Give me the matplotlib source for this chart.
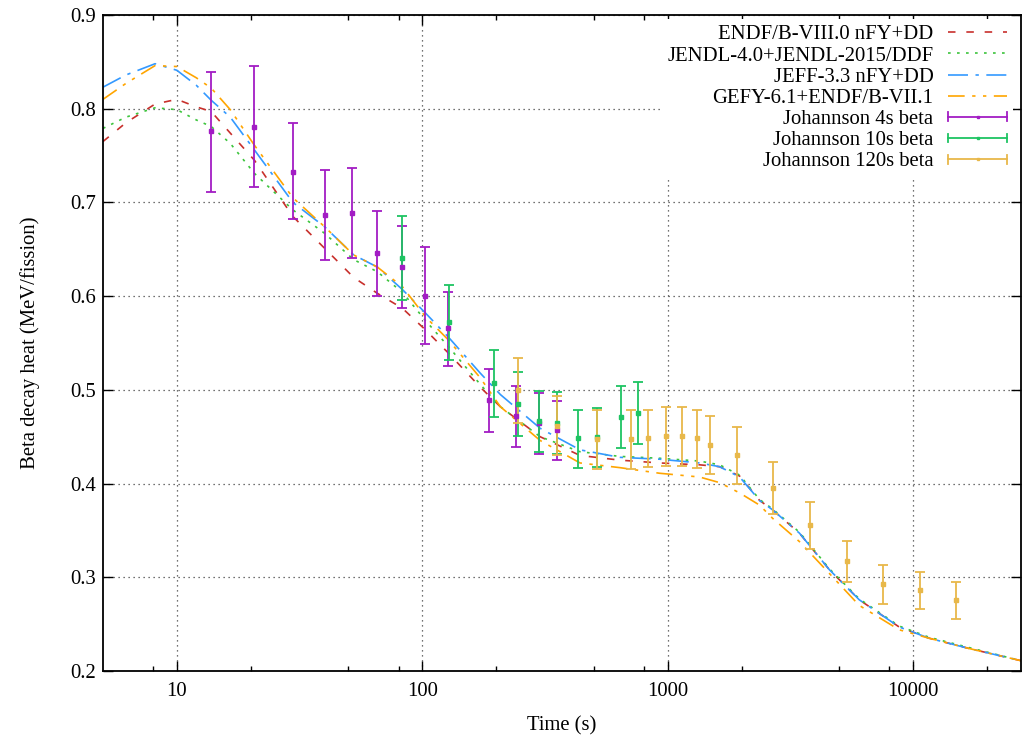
import numpy as np
import matplotlib
matplotlib.use("Agg")
import matplotlib.pyplot as plt
from matplotlib.lines import Line2D
from matplotlib.legend_handler import HandlerBase
from matplotlib.ticker import FixedLocator, NullFormatter, FixedFormatter

plt.rcParams['font.family'] = ['Liberation Serif', 'DejaVu Serif']

# ---------------- data ----------------
time_model = [5.0, 6.2, 8.15, 10, 12, 13.8, 16.5, 20.7, 29.7, 40, 52.5, 65.6, 83, 103, 128, 172,
              208, 302, 439, 638, 927, 1349, 1627, 1963, 2367, 2673, 3443, 4559,
              6029, 8764, 11610, 16900, 27500]
endf = [0.765, 0.785, 0.805, 0.810, 0.802, 0.797, 0.774, 0.745, 0.685, 0.651, 0.620, 0.603,
        0.587, 0.564, 0.539, 0.503, 0.482, 0.450, 0.430, 0.425, 0.422, 0.420, 0.418, 0.408,
        0.382, 0.372, 0.347, 0.308, 0.276, 0.247, 0.235, 0.224, 0.211]
jendl = [0.779, 0.791, 0.801, 0.799, 0.788, 0.781, 0.763, 0.731, 0.692, 0.667, 0.639, 0.626,
         0.604, 0.574, 0.546, 0.506, 0.482, 0.450, 0.434, 0.429, 0.427, 0.424, 0.420, 0.409,
         0.383, 0.373, 0.348, 0.309, 0.277, 0.248, 0.236, 0.225, 0.211]
jeff = [0.823, 0.836, 0.848, 0.841, 0.825, 0.809, 0.791, 0.756, 0.700, 0.674, 0.644, 0.631,
        0.607, 0.582, 0.556, 0.518, 0.495, 0.459, 0.436, 0.428, 0.426, 0.422, 0.418, 0.407,
        0.382, 0.372, 0.347, 0.308, 0.276, 0.247, 0.235, 0.224, 0.211]
gefy = [0.810, 0.827, 0.846, 0.845, 0.833, 0.822, 0.799, 0.761, 0.705, 0.674, 0.644, 0.631,
        0.610, 0.578, 0.553, 0.513, 0.482, 0.446, 0.422, 0.417, 0.411, 0.407, 0.401, 0.390,
        0.377, 0.363, 0.338, 0.304, 0.270, 0.244, 0.235, 0.224, 0.211]

t4 = [13.8, 20.7, 29.7, 40, 51.9, 65.6, 83, 103, 127.6, 187, 241, 299, 354]
v4 = [0.776, 0.780, 0.733, 0.687, 0.689, 0.646, 0.631, 0.600, 0.566, 0.489, 0.472, 0.465, 0.457]
lo4 = [0.711, 0.716, 0.682, 0.639, 0.641, 0.600, 0.587, 0.549, 0.525, 0.455, 0.439, 0.432, 0.425]
hi4 = [0.839, 0.846, 0.785, 0.735, 0.737, 0.691, 0.675, 0.652, 0.604, 0.522, 0.504, 0.497, 0.488]

t10 = [83, 128, 196, 245, 299, 354, 430, 514, 644, 755]
v10 = [0.641, 0.572, 0.507, 0.485, 0.467, 0.465, 0.449, 0.450, 0.471, 0.475]
lo10 = [0.596, 0.532, 0.471, 0.451, 0.434, 0.432, 0.417, 0.418, 0.438, 0.442]
hi10 = [0.685, 0.612, 0.542, 0.519, 0.499, 0.498, 0.479, 0.481, 0.504, 0.508]

t120 = [245, 354, 514, 708, 830, 982, 1140, 1313, 1482, 1907, 2696, 3814, 5395, 7558, 10670, 14960]
v120 = [0.500, 0.461, 0.448, 0.448, 0.449, 0.451, 0.451, 0.449, 0.441, 0.430, 0.395, 0.356,
        0.317, 0.293, 0.286, 0.276]
lo120 = [0.465, 0.430, 0.416, 0.416, 0.418, 0.419, 0.419, 0.417, 0.410, 0.400, 0.367, 0.330,
         0.295, 0.272, 0.266, 0.256]
hi120 = [0.534, 0.493, 0.478, 0.478, 0.479, 0.482, 0.482, 0.479, 0.472, 0.460, 0.423, 0.380,
         0.339, 0.313, 0.306, 0.295]

labels_model = ["ENDF/B-VIII.0 nFY+DD", "JENDL-4.0+JENDL-2015/DDF",
                "JEFF-3.3 nFY+DD", "GEFY-6.1+ENDF/B-VII.1"]
labels_exp = ["Johannson 4s beta", "Johannson 10s beta", "Johannson 120s beta"]
x_major = [10, 100, 1000, 10000]
x_major_labels = ["10", "100", "1000", "10000"]
x_minor = [8, 20, 50, 80, 200, 500, 800, 2000, 5000, 8000, 20000]
y_ticks = [0.2, 0.3, 0.4, 0.5, 0.6, 0.7, 0.8, 0.9]

# ---------------- style ----------------
c_red = '#c8302c'
c_green = '#3cc43c'
c_blue = '#3399ff'
c_orange = '#ffa500'
c_purple = '#a21cc4'
c_green2 = '#1ec462'
c_gold = '#e8b84a'
FS = 14.9

fig = plt.figure(figsize=(10.22, 7.37), dpi=100)
ax = fig.add_axes([103 / 1022, 66 / 737, 918 / 1022, 656 / 737])
ax.set_xscale('log')

lw = 1.2
ax.plot(time_model, endf, color=c_red, lw=lw, dashes=(4.5, 6.5), label=labels_model[0])
ax.plot(time_model, jendl, color=c_green, lw=lw, dashes=(1.6, 3.8), label=labels_model[1])
ax.plot(time_model, jeff, color=c_blue, lw=lw, dashes=(12, 4.5, 2, 4.5), label=labels_model[2])
ax.plot(time_model, gefy, color=c_orange, lw=lw, dashes=(10, 4.5, 2, 4.5, 2, 4.5), label=labels_model[3])


def draw_err(t, v, lo, hi, color):
    v = np.asarray(v); lo = np.asarray(lo); hi = np.asarray(hi)
    ax.errorbar(t, v, yerr=[v - lo, hi - v], fmt='s', ms=2.4, color=color,
                ecolor=color, elinewidth=1.3, capsize=3.8, capthick=1.3, zorder=3)


draw_err(t4, v4, lo4, hi4, c_purple)
draw_err(t10, v10, lo10, hi10, c_green2)
draw_err(t120, v120, lo120, hi120, c_gold)


class ErrProxy:
    def __init__(self, color):
        self.color = color


class HErrHandler(HandlerBase):
    def create_artists(self, legend, orig, xdescent, ydescent, width, height, fontsize, trans):
        x0, x1 = -xdescent, -xdescent + width
        y = (height - ydescent) / 2
        c = orig.color
        arts = [Line2D([x0, x1], [y, y], color=c, lw=1.3, transform=trans),
                Line2D([x0, x0], [y - 3.2, y + 3.2], color=c, lw=1.3, transform=trans),
                Line2D([x1, x1], [y - 3.2, y + 3.2], color=c, lw=1.3, transform=trans),
                Line2D([(x0 + x1) / 2], [y], color=c, marker='s', ms=1.6, ls='none', transform=trans)]
        return arts


handles, labs = ax.get_legend_handles_labels()
proxies = [ErrProxy(c_purple), ErrProxy(c_green2), ErrProxy(c_gold)]
handles = handles + proxies
labs = labs + labels_exp

fs_px = FS * 100 / 72
bp = 0.3
ax_w, ax_h = 918, 656
anchor_x = (1007 + bp * fs_px - 103) / ax_w
anchor_y = (671 - (25 - bp * fs_px)) / ax_h
leg = ax.legend(handles, labs, handler_map={ErrProxy: HErrHandler()},
                loc='upper right', bbox_to_anchor=(anchor_x, anchor_y),
                markerfirst=False, fontsize=FS, frameon=True, fancybox=False,
                edgecolor='none', facecolor='white', framealpha=1.0,
                borderpad=bp, borderaxespad=0, handlelength=2.85, handletextpad=0.7,
                labelspacing=0.08)

ax.set_xlim(5, 27500)
ax.set_ylim(0.2, 0.9)
ax.xaxis.set_major_locator(FixedLocator(x_major))
ax.xaxis.set_major_formatter(FixedFormatter(x_major_labels))
ax.xaxis.set_minor_locator(FixedLocator(x_minor))
ax.xaxis.set_minor_formatter(NullFormatter())
ax.set_yticks(y_ticks)
ax.set_yticklabels([f"{v:.1f}" for v in y_ticks])
ax.tick_params(which='major', direction='in', length=7, width=1.0, top=True, right=True,
               labelsize=FS, pad=8)
ax.tick_params(axis='y', which='major', pad=5)
ax.tick_params(which='minor', direction='in', length=3.5, width=1.0, top=True, right=True)
ax.grid(True, which='major', linestyle=(0, (1, 3)), color='#444444', linewidth=0.9)
ax.set_axisbelow(True)
for s in ax.spines.values():
    s.set_linewidth(1.3)

ax.set_xlabel("Time (s)", fontsize=FS, labelpad=11)
ax.set_ylabel("Beta decay heat (MeV/fission)", fontsize=FS, labelpad=22)

fig.savefig("out.png", dpi=100)
